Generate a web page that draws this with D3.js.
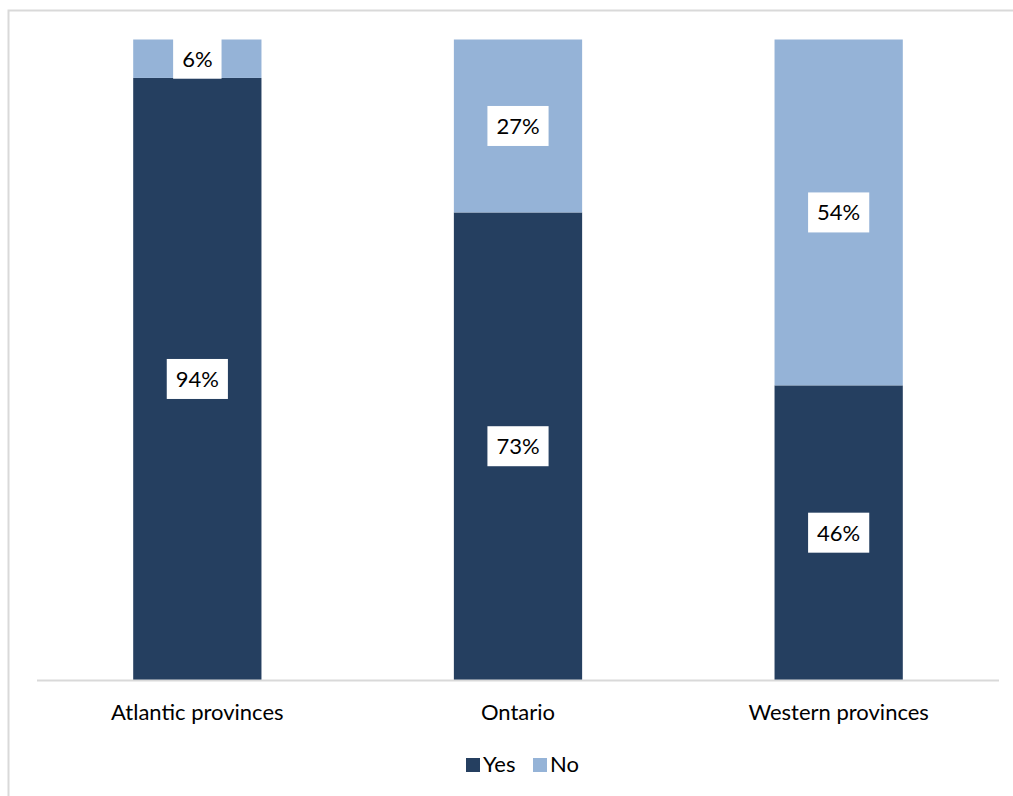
<!DOCTYPE html>
<html><head><meta charset="utf-8">
<script src="https://cdn.jsdelivr.net/npm/d3@7"></script>
<style>html,body{margin:0;background:#fff;overflow:hidden}svg{display:block}text{font-family:Lato,"Open Sans",sans-serif}</style>
</head><body>
<svg id="c" width="1013" height="796"></svg>
<script>
const categories = ["Atlantic provinces", "Ontario", "Western provinces"];
const seriesNames = ["Yes", "No"];
const yesValues = [94, 73, 46];
const noValues = [6, 27, 54];
const colors = ["#253F60", "#95B3D7"];

const svg = d3.select("#c");
svg.append("rect").attr("x", 8.5).attr("y", 10.5).attr("width", 1030).attr("height", 800)
  .attr("fill", "#fff").attr("stroke", "#D9D9D9").attr("stroke-width", 2);

const x = d3.scaleBand().domain(categories).range([37, 999]).paddingInner(0.6).paddingOuter(0.3);
const y = d3.scaleLinear().domain([0, 100]).range([680, 39.5]);

const data = categories.map((c, i) => ({cat: c, Yes: yesValues[i], No: noValues[i]}));
const stacked = d3.stack().keys(seriesNames)(data);

stacked.forEach((s, si) => {
  svg.append("g").selectAll("rect").data(s).join("rect")
    .attr("x", d => x(d.data.cat)).attr("width", x.bandwidth())
    .attr("y", d => y(d[1])).attr("height", d => y(d[0]) - y(d[1]))
    .attr("fill", colors[si]);
});

// axis line
svg.append("line").attr("x1", 37).attr("x2", 999).attr("y1", 680.5).attr("y2", 680.5)
  .attr("stroke", "#D9D9D9").attr("stroke-width", 2);

// category labels
svg.append("g").selectAll("text").data(categories).join("text")
  .attr("x", d => x(d) + x.bandwidth() / 2).attr("y", 720)
  .attr("text-anchor", "middle").attr("font-size", 22).attr("fill", "#000").text(d => d);

// data labels
stacked.forEach((s) => {
  const g = svg.append("g");
  s.forEach(d => {
    const cx = x(d.data.cat) + x.bandwidth() / 2;
    const cy = (y(d[0]) + y(d[1])) / 2;
    const label = (d[1] - d[0]) + "%";
    const t = g.append("text").attr("x", cx).attr("y", cy + 8).attr("text-anchor", "middle")
      .attr("font-size", 22).attr("fill", "#000").text(label);
    const w = t.node().getComputedTextLength();
    g.insert("rect", "text").attr("x", cx - w / 2 - 9).attr("y", cy - 20).attr("width", w + 18).attr("height", 40)
      .attr("fill", "#fff");
  });
});

// legend
const lg = svg.append("g");
const legendX = [466, 533];
seriesNames.forEach((n, i) => {
  lg.append("rect").attr("x", legendX[i]).attr("y", 758).attr("width", 14).attr("height", 14).attr("fill", colors[i]);
  lg.append("text").attr("x", legendX[i] + 17).attr("y", 772).attr("font-size", 22).attr("fill", "#000").text(n);
});
</script>
</body></html>
